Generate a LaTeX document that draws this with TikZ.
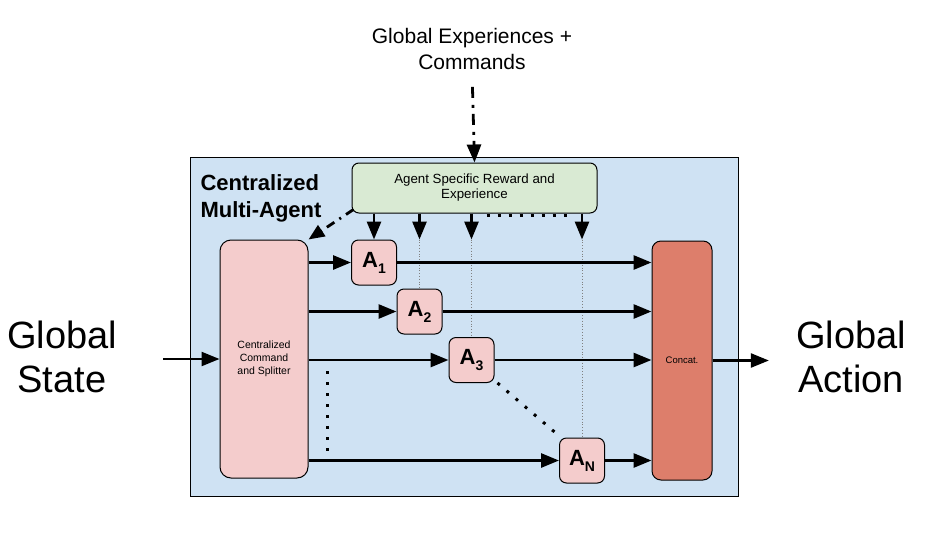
\documentclass[tikz,border=0pt]{standalone}
\usepackage{fontspec}
\setmainfont{Liberation Sans}
\usepackage{xcolor}
\usetikzlibrary{arrows.meta,positioning}
\definecolor{panelblue}{RGB}{207, 226, 243}
\definecolor{rewardgreen}{RGB}{217, 234, 211}
\definecolor{agentpink}{RGB}{244, 204, 204}
\definecolor{concatred}{RGB}{221, 126, 107}
\newcommand{\agentname}[1]{A\raisebox{-6pt}{\fontsize{14}{14}\selectfont #1}}

\begin{document}
\begin{tikzpicture}[x=1pt, y=-1pt,
    box/.style={draw, line width=1pt, rounded corners=7pt, inner sep=0pt, align=center},
    agent/.style={box, fill=agentpink, minimum width=45pt, minimum height=45pt, font=\fontsize{22}{22}\selectfont\bfseries},
    flow/.style={-{Triangle[length=18pt, width=14pt]}, line width=2.8pt},
    bigdots/.style={line width=3pt, dash pattern=on 3pt off 8pt},
    feed/.style={gray, line width=0.8pt, dotted}]
    \useasboundingbox (0,0) rectangle (933,543);

    % Outer panel
    \node[draw, line width=0.8pt, fill=panelblue, minimum width=548pt, minimum height=339pt] (panel) at (464,326.5) {};
    \node[anchor=center, align=left, inner sep=0pt, font=\fontsize{22}{27}\selectfont\bfseries] (title) at (261,198) {Centralized\\Multi-Agent};

    % Inputs and outputs
    \node[align=center, inner sep=0pt, font=\fontsize{21}{26}\selectfont] (gexp) at (472,49) {Global Experiences +\\Commands};
    \node[align=center, inner sep=0pt, font=\fontsize{38}{44}\selectfont] (gstate) at (62,357) {Global\\State};
    \node[align=center, inner sep=0pt, font=\fontsize{38}{44}\selectfont] (gaction) at (851,357) {Global\\Action};

    % Blocks
    \node[box, fill=rewardgreen, minimum width=245pt, minimum height=50pt, font=\fontsize{13.3}{15}\selectfont] (green) at (474.5,188) {Agent Specific Reward and\\Experience};
    \node[box, rounded corners=11pt, fill=agentpink, minimum width=88pt, minimum height=238pt, font=\fontsize{10.5}{13}\selectfont] (splitter) at (264,359) {Centralized\\Command\\and Splitter};
    \node[box, rounded corners=9pt, fill=concatred, minimum width=60pt, minimum height=239pt, font=\fontsize{9.5}{11}\selectfont] (concat) at (682,360.5) {Concat.};

    \node[agent] (a1) at (374,262.5) {\agentname{1}};
    \node[agent] (a2) at (419.5,311.5) {\agentname{2}};
    \node[agent] (a3) at (471.5,360) {\agentname{3}};
    \node[agent] (an) at (582,460.5) {\agentname{N}};

    % Experience feed
    \draw[flow, dash pattern=on 11pt off 7pt on 3pt off 6pt, shorten <=17pt] (gexp.south) -- (green.north);
    \draw[flow, -{Triangle[length=16pt, width=13pt]}, dash pattern=on 9pt off 6pt on 2pt off 6pt] ([xshift=2pt,yshift=4pt]green.south west) -- (splitter.north east);
    \draw[flow] (green.south -| a1) -- (a1.north);
    \draw[flow] (green.south -| a2) -- (a2 |- a1.north);
    \draw[flow] (green.south -| a3) -- (a3 |- a1.north);
    \draw[flow] (green.south -| an) -- (an |- a1.north);
    \draw[feed] (a2 |- a1.north) -- (a2.north);
    \draw[feed] (a3 |- a1.north) -- (a3.north);
    \draw[feed] (an |- a1.north) -- (an.north);
    \draw[bigdots, shorten <=15pt, shorten >=13pt] ([yshift=-1.5pt]green.south -| a3) -- ([yshift=-1.5pt]green.south -| an);

    % Splitting
    \draw[flow, line width=2.3pt, shorten <=46pt] (gstate.east |- splitter.west) -- (splitter.west);
    \draw[flow] (splitter.east |- a1) -- (a1.west);
    \draw[flow] (splitter.east |- a2) -- (a2.west);
    \draw[flow] (splitter.east |- a3) -- (a3.west);
    \draw[flow] (splitter.east |- an) -- (an.west);
    \draw[bigdots] ([xshift=19pt,yshift=-11pt]splitter.east |- a3) -- ([xshift=19pt,yshift=5pt]splitter.east |- an);
    \draw[bigdots, dash pattern=on 3pt off 9pt] ([xshift=3pt]a3.south east) -- ([xshift=2pt]an.north west);

    % Concatenation
    \draw[flow] (a1.east) -- (a1 -| concat.west);
    \draw[flow] (a2.east) -- (a2 -| concat.west);
    \draw[flow] (a3.east) -- (a3 -| concat.west);
    \draw[flow] (an.east) -- (an -| concat.west);
    \draw[flow, line width=2.3pt, shorten >=27pt] (concat.east) -- (gaction.west |- concat.east);
\end{tikzpicture}
\end{document}
